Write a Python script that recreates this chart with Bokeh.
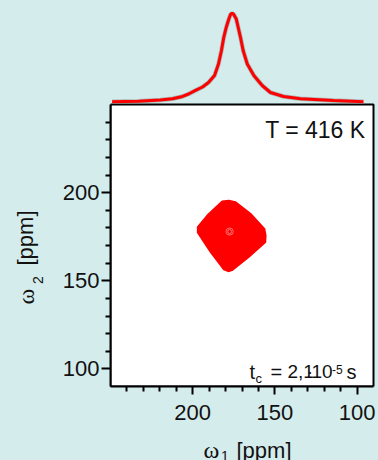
import numpy as np
from bokeh.plotting import figure
from bokeh.layouts import gridplot
from bokeh.models import Range1d, FixedTicker, Label
from bokeh.embed import file_html
from bokeh.resources import INLINE

# ---------------- data ----------------
# 1D projection spectrum (omega_1 in ppm, normalised intensity)
spec_ppm = [249.0, 233.0, 219.6, 212.3, 206.2, 202.5, 198.3, 194.0, 190.4,
            186.7, 184.3, 182.5, 181.1, 179.6, 178.0, 177.0, 176.0, 175.0,
            173.5, 172.3, 170.9, 169.3, 166.8, 162.8, 157.7, 152.7, 144.7,
            134.4, 114.3, 96.1]
spec_int = [0.0, 0.006, 0.020, 0.034, 0.060, 0.088, 0.128, 0.167, 0.218,
            0.297, 0.427, 0.579, 0.726, 0.839, 0.935, 0.985, 1.0, 0.985,
            0.935, 0.839, 0.726, 0.579, 0.427, 0.297, 0.184, 0.105, 0.060,
            0.034, 0.015, 0.0]

# outline of the 2D contour region (omega_1, omega_2 in ppm)
peak_w1 = [197.0, 197.0, 191.2, 182.1, 178.0, 174.0, 164.8, 156.3, 155.5,
           155.7, 165.9, 176.0, 178.4, 181.1, 189.2]
peak_w2 = [177.3, 180.5, 187.1, 195.1, 195.6, 194.7, 188.1, 179.5, 175.7,
           171.9, 163.4, 155.9, 155.3, 156.4, 166.3]

# faint inner contour rings (centre w1, centre w2, width, height in ppm)
ring_w1 = [177.5, 177.5]
ring_w2 = [177.9, 177.9]
ring_d1 = [2.4, 4.4]
ring_d2 = [2.3, 4.0]

x_ticks = [100, 150, 200]
y_ticks = [100, 150, 200]
minor_ticks = [110, 120, 130, 140, 160, 170, 180, 190, 210, 220, 230, 240]
tick_labels = {100: "100", 150: "150", 200: "200"}

BOX_X = (250, 90)     # omega_1 axis, reversed
BOX_Y = (90, 250)     # omega_2 axis

# ---------------- layout constants (pixels) ----------------
BG = "#d5ecec"
W, H = 378, 460
LEFT_W = 50                       # strip holding the y title
BOX_L, BOX_R = 110, 373           # page x of box edges
BOX_T, BOX_B = 104, 386           # page y of box edges
FRAME_R = 375
MAIN_H = 430
BOT_H = H - MAIN_H
MAIN_W = W - LEFT_W
ppx = (BOX_X[0] - BOX_X[1]) / (BOX_R - BOX_L)
ppy = (BOX_Y[1] - BOX_Y[0]) / (BOX_B - BOX_T)

bg_style = {"background-color": BG}


def strip(width, height, xr, yr):
    """blank figure used to hold free text; ranges are in page pixels
    of the (grid-aligned) frame"""
    f = figure(width=width, height=height, x_range=Range1d(*xr),
               y_range=Range1d(*yr), x_axis_type=None, y_axis_type=None,
               toolbar_location=None, output_backend="svg",
               min_border_left=0, min_border_right=0, min_border_top=0,
               min_border_bottom=0, sizing_mode="fixed", styles=bg_style)
    f.border_fill_color = None
    f.background_fill_color = None
    f.outline_line_color = None
    return f


# frames in a grid row / column are aligned with the main plot's frame
left = strip(LEFT_W, MAIN_H, (0, LEFT_W), (BOX_B, 0))
corner = strip(LEFT_W, BOT_H, (0, LEFT_W), (H, MAIN_H))
bot = strip(MAIN_W, BOT_H, (BOX_L, FRAME_R), (H, MAIN_H))

# ---- main plot (projection + 2D box) ----
xr = Range1d(BOX_X[0], BOX_X[0] - (FRAME_R - BOX_L) * ppx)
yr = Range1d(BOX_Y[0], BOX_Y[1] + BOX_T * ppy)
p = figure(width=MAIN_W, height=MAIN_H, x_range=xr, y_range=yr,
           toolbar_location=None, output_backend="svg", sizing_mode="fixed",
           min_border_left=BOX_L - LEFT_W, min_border_right=W - FRAME_R,
           min_border_top=0, min_border_bottom=MAIN_H - BOX_B,
           styles=bg_style)
p.border_fill_color = None
p.background_fill_color = None
p.outline_line_color = None
p.grid.visible = False

base_py, peak_py = 101.3, 12.7
k = base_py - peak_py
p.extra_y_ranges = {"spec": Range1d((base_py - BOX_B) / k, base_py / k)}

for ax, ticks, out in ((p.xaxis[0], x_ticks, 8), (p.yaxis[0], y_ticks, 9)):
    ax.ticker = FixedTicker(ticks=ticks, minor_ticks=minor_ticks)
    ax.major_label_overrides = tick_labels
    ax.bounds = (90, 250)
    ax.axis_line_width = 2
    ax.axis_line_color = "black"
    ax.major_tick_in = 0
    ax.major_tick_out = out
    ax.minor_tick_in = 0
    ax.minor_tick_out = 5
    ax.major_tick_line_width = 2
    ax.minor_tick_line_width = 2
    ax.major_label_text_font = "Liberation Sans"
    ax.major_label_text_font_size = "22px"
    ax.major_label_text_color = "#111111"
p.xaxis[0].major_label_standoff = 10
p.yaxis[0].major_label_standoff = 2

# white box of the 2D spectrum
p.quad(left=[BOX_X[0]], right=[BOX_X[1]], bottom=[BOX_Y[0]], top=[BOX_Y[1]],
       fill_color="white", line_color="black", line_width=2)

# projection on top
p.line(spec_ppm, spec_int, y_range_name="spec", line_color="#8c8c8c",
       line_width=4.5, line_alpha=0.55)
p.line(spec_ppm, spec_int, y_range_name="spec", line_color="#ff0000",
       line_width=3)

# 2D peak
p.patch(peak_w1, peak_w2, fill_color="#ff0000", line_color="#ff0000", line_width=1.5)
p.ellipse(x=ring_w1, y=ring_w2, width=ring_d1, height=ring_d2,
          fill_color=None, line_color="#ff9c9c", line_width=1, line_alpha=0.7)

SANS = "Liberation Sans"
SERIF = "Liberation Serif"
BASE_SHIFT = 0.32   # measured offset of the rendered baseline, in em


def dx(px):
    return BOX_X[0] - (px - BOX_L) * ppx


def dy(py):
    return BOX_Y[0] + (BOX_B - py) * ppy


def lab(fig, txt, px, py, size, font=SANS, align="left", rotated=False,
        to_data=False):
    """place text with its baseline at page pixel (px, py)"""
    if rotated:
        px -= BASE_SHIFT * size
    else:
        py -= BASE_SHIFT * size
    x, y = (dx(px), dy(py)) if to_data else (px, py)
    fig.add_layout(Label(x=x, y=y, text=txt, text_font=font,
                         text_font_size=f"{size}px", text_color="#111111",
                         text_align=align, text_baseline="alphabetic",
                         angle=np.pi / 2 if rotated else 0.0))


lab(p, "T = 416 K", 365, 136.7, 23, align="right", to_data=True)

# t_c = 2,1·10^-5 s
lab(p, "t", 249, 377.5, 20, to_data=True)
lab(p, "c", 255, 382, 13, to_data=True)
lab(p, "=", 270, 377.5, 20, to_data=True)
lab(p, "2,1", 287, 377.5, 19, to_data=True)
lab(p, "·", 306.5, 377.5, 18, to_data=True)
lab(p, "10", 311, 377.5, 19, to_data=True)
lab(p, "-5", 331.5, 373.3, 12, to_data=True)
lab(p, "s", 346, 377.5, 20, to_data=True)

# x axis title: ω1 [ppm]
lab(bot, "ω", 203, 457, 24, font=SERIF)
lab(bot, "1", 220.5, 460, 14)
lab(bot, "[ppm]", 236, 457.5, 22)

# y axis title: ω2 [ppm]
lab(left, "ω", 33.3, 304, 24, font=SERIF, rotated=True)
lab(left, "2", 41.5, 283.5, 14, rotated=True)
lab(left, "[ppm]", 32.5, 265, 22, rotated=True)

grid = gridplot([[left, p], [corner, bot]], toolbar_location=None)
grid.styles = bg_style
grid.spacing = 0
open("out.html", "w").write(file_html(grid, INLINE))
